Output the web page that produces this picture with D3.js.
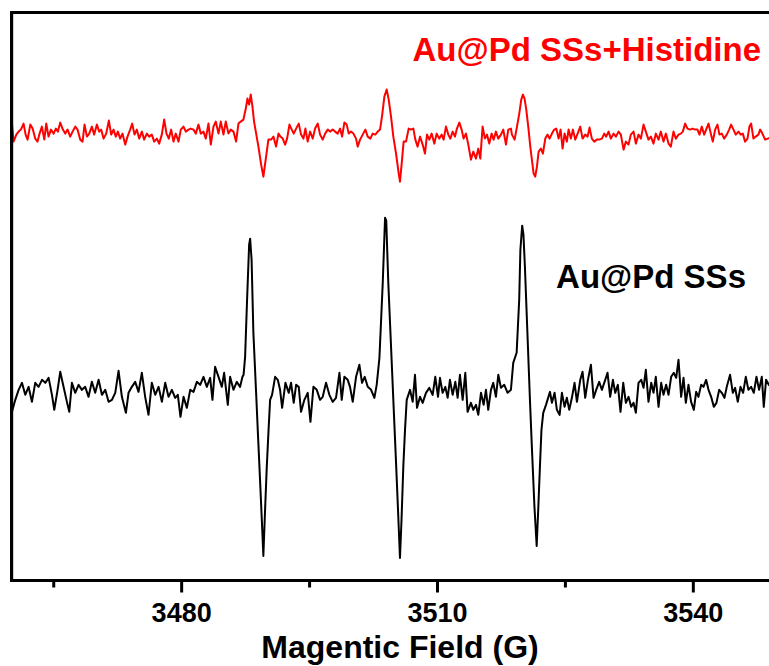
<!DOCTYPE html>
<html>
<head>
<meta charset="utf-8">
<script src="https://cdn.jsdelivr.net/npm/d3@7"></script>
<style>
body{margin:0;background:#fff;}
svg{display:block;font-family:"Liberation Sans",Arial,sans-serif;}
</style>
</head>
<body>
<svg id="chart"></svg>
<script>
// magnetic field (G) ticks
const majorTicks = [3480, 3510, 3540];
const minorTicks = [3465, 3495, 3525];

// EPR traces: [field (G), intensity (a.u.)]
const ssTrace = [
  [3460.16,-1.9],[3460.55,-0.7],[3460.94,0.3],[3461.33,1.0],[3461.72,-0.2],[3462.11,0.6],[3462.50,-0.9],[3462.89,1.0],
  [3463.28,0.6],[3463.68,1.3],[3464.07,1.0],[3464.46,1.5],[3464.85,-0.2],[3465.12,-1.7],[3465.51,0.3],[3465.82,2.1],
  [3466.21,0.6],[3466.60,-0.9],[3466.88,-1.9],[3467.19,1.0],[3467.58,0.0],[3467.97,0.8],[3468.36,0.3],[3468.75,0.6],
  [3469.14,-0.4],[3469.53,1.1],[3469.92,0.0],[3470.32,1.3],[3470.71,-0.2],[3471.10,0.3],[3471.49,-0.9],[3471.88,-0.7],
  [3472.27,0.0],[3472.66,2.2],[3473.05,-0.4],[3473.52,-2.0],[3473.83,0.0],[3474.22,0.6],[3474.61,1.1],[3475.00,0.1],
  [3475.39,2.0],[3475.78,-0.4],[3476.17,-2.2],[3476.56,1.0],[3476.96,-0.2],[3477.35,0.6],[3477.74,-0.9],[3478.13,1.0],
  [3478.52,-0.4],[3478.91,0.3],[3479.30,-0.5],[3479.61,-0.2],[3479.92,-2.4],[3480.28,-0.4],[3480.67,-1.5],[3481.06,0.3],
  [3481.45,0.1],[3481.84,1.1],[3482.23,0.8],[3482.62,1.6],[3483.01,0.6],[3483.40,1.5],[3483.67,-0.7],[3483.98,2.6],
  [3484.38,1.6],[3484.77,0.6],[3485.04,2.0],[3485.47,-1.2],[3485.74,1.6],[3486.13,0.3],[3486.52,1.1],[3486.91,0.6],
  [3487.19,1.6],[3487.32,1.8],[3487.50,3.6],[3487.73,9.3],[3487.97,14.8],[3488.09,15.4],[3488.26,13.3],[3488.47,6.0],
  [3488.79,0.0],[3489.02,-4.4],[3489.26,-8.9],[3489.49,-13.3],[3489.64,-16.3],[3489.84,-11.7],[3490.04,-7.4],[3490.25,-3.7],
  [3490.43,-0.7],[3490.66,-0.2],[3491.02,1.6],[3491.33,1.3],[3491.60,0.3],[3491.84,-1.5],[3492.23,1.0],[3492.62,0.0],
  [3492.89,1.0],[3493.20,-1.0],[3493.48,0.8],[3493.79,0.6],[3494.06,-1.9],[3494.45,-0.7],[3494.84,0.0],[3495.16,-2.9],
  [3495.51,0.6],[3495.90,0.3],[3496.29,-0.7],[3496.60,-0.4],[3496.99,1.0],[3497.38,-0.2],[3497.77,-0.9],[3498.16,-0.5],
  [3498.56,2.0],[3498.83,-0.7],[3499.14,1.6],[3499.53,1.3],[3499.80,0.6],[3500.12,-0.9],[3500.51,1.6],[3500.90,2.8],
  [3501.21,1.0],[3501.52,1.6],[3501.88,0.6],[3502.27,0.3],[3502.66,-0.5],[3502.93,0.8],[3503.25,3.5],[3503.64,11.0],
  [3503.91,17.5],[3504.05,17.2],[3504.29,11.0],[3504.88,-0.7],[3505.20,-7.0],[3505.43,-11.7],[3505.66,-16.5],[3505.84,-12.7],
  [3506.05,-7.4],[3506.25,-3.7],[3506.45,-0.7],[3506.84,0.3],[3507.15,-0.9],[3507.42,1.8],[3507.66,-1.5],[3508.01,-0.4],
  [3508.32,-1.0],[3508.71,0.0],[3509.10,0.5],[3509.49,-0.2],[3509.80,1.6],[3510.12,-0.4],[3510.35,1.5],[3510.66,0.0],
  [3510.98,0.6],[3511.25,-0.5],[3511.52,1.3],[3511.84,-0.2],[3512.15,1.1],[3512.42,-0.5],[3512.69,1.8],[3513.01,-0.7],
  [3513.32,2.0],[3513.59,-1.9],[3513.98,-1.0],[3514.26,-1.7],[3514.57,-1.2],[3514.84,-2.2],[3515.16,0.0],[3515.47,-1.2],
  [3515.74,0.3],[3516.01,-1.7],[3516.33,0.3],[3516.60,1.0],[3516.91,-0.4],[3517.19,1.8],[3517.50,0.5],[3517.89,0.8],
  [3518.28,0.0],[3518.67,0.3],[3518.94,3.0],[3519.34,4.0],[3519.64,9.3],[3519.78,14.3],[3519.99,16.7],[3520.14,15.8],
  [3520.31,12.6],[3520.90,-0.7],[3521.13,-5.5],[3521.43,-11.4],[3521.69,-15.3],[3521.87,-11.7],[3522.07,-7.4],[3522.25,-3.7],
  [3522.46,-2.0],[3522.78,-1.2],[3523.25,0.1],[3523.48,-1.0],[3523.79,0.0],[3524.06,-1.7],[3524.38,-2.2],[3524.65,0.0],
  [3524.96,-1.4],[3525.23,-0.5],[3525.51,-1.7],[3525.82,-0.5],[3526.13,1.0],[3526.41,-0.9],[3526.80,1.3],[3527.07,2.1],
  [3527.38,-0.5],[3527.70,1.3],[3528.05,2.8],[3528.36,-0.5],[3528.67,0.3],[3529.02,1.1],[3529.34,0.3],[3529.65,1.1],
  [3530.00,2.0],[3530.31,-0.4],[3530.63,1.3],[3530.90,0.0],[3531.21,0.8],[3531.52,-1.9],[3531.84,1.0],[3532.15,-1.0],
  [3532.46,-0.4],[3532.77,-1.4],[3533.05,-1.0],[3533.32,-2.0],[3533.63,1.0],[3533.95,1.3],[3534.22,0.5],[3534.49,2.3],
  [3534.80,-0.9],[3535.12,1.0],[3535.39,0.0],[3535.66,1.6],[3535.98,-1.4],[3536.29,1.0],[3536.56,-0.2],[3536.87,0.8],
  [3537.15,-0.2],[3537.46,1.6],[3537.77,2.0],[3538.05,1.5],[3538.32,3.3],[3538.63,-0.4],[3538.91,1.5],[3539.18,-1.0],
  [3539.49,0.8],[3539.80,-0.9],[3540.12,-1.7],[3540.39,0.1],[3540.66,-0.4],[3540.98,0.8],[3541.25,0.6],[3541.56,1.3],
  [3541.84,0.3],[3542.15,-0.4],[3542.46,-1.4],[3542.77,-1.0],[3543.09,0.3],[3543.40,0.0],[3543.71,-0.5],[3543.98,0.6],
  [3544.37,1.8],[3544.69,0.0],[3544.96,0.5],[3545.27,-0.9],[3545.59,0.6],[3545.90,0.0],[3546.21,1.6],[3546.52,0.3],
  [3546.84,0.6],[3547.15,0.0],[3547.46,1.6],[3547.77,0.3],[3548.09,1.6],[3548.32,-1.4],[3548.59,1.3],[3548.91,0.8],
  [3549.40,0.5]
];

const hisTrace = [
  [3460.16,0.8],[3460.35,-1.0],[3460.67,-0.3],[3460.94,0.0],[3461.21,0.2],[3461.52,0.8],[3461.76,-0.3],[3461.99,-0.8],
  [3462.31,0.7],[3462.58,0.3],[3462.89,-0.7],[3463.16,-1.0],[3463.40,-0.2],[3463.67,0.5],[3463.95,-0.8],[3464.18,0.8],
  [3464.45,-0.5],[3464.73,0.2],[3465.04,-0.2],[3465.31,0.3],[3465.55,0.0],[3465.82,0.9],[3466.13,0.2],[3466.41,-0.2],
  [3466.68,0.2],[3466.99,-0.5],[3467.27,0.0],[3467.58,0.5],[3467.85,0.2],[3468.16,-0.8],[3468.44,-1.0],[3468.67,0.7],
  [3468.95,-0.5],[3469.22,-0.2],[3469.53,0.5],[3469.80,-0.3],[3470.12,0.7],[3470.39,0.0],[3470.62,0.2],[3470.90,-0.7],
  [3471.21,-0.2],[3471.52,1.1],[3471.80,-0.3],[3472.07,0.2],[3472.34,-0.5],[3472.58,0.0],[3472.85,-0.7],[3473.12,-0.2],
  [3473.44,-1.3],[3473.71,-0.5],[3474.02,0.2],[3474.26,0.8],[3474.53,-0.3],[3474.80,0.2],[3475.08,-0.7],[3475.39,0.0],
  [3475.66,-0.8],[3475.98,-0.2],[3476.25,-0.5],[3476.56,-0.3],[3476.84,-1.0],[3477.15,-0.7],[3477.42,-1.2],[3477.73,-0.3],
  [3478.01,1.2],[3478.28,-0.2],[3478.55,-0.7],[3478.83,0.2],[3479.10,-1.0],[3479.37,-0.2],[3479.69,-1.0],[3479.96,0.2],
  [3480.27,0.5],[3480.55,0.0],[3480.86,0.2],[3481.13,0.3],[3481.44,0.2],[3481.72,-0.2],[3482.03,0.7],[3482.30,-0.2],
  [3482.62,0.0],[3482.89,-0.7],[3483.20,0.8],[3483.48,-1.3],[3483.79,0.5],[3484.06,1.0],[3484.38,-0.2],[3484.65,1.0],
  [3484.96,-0.3],[3485.23,1.0],[3485.55,-0.2],[3485.82,0.2],[3486.13,0.0],[3486.44,-1.0],[3486.72,0.8],[3486.99,1.0],
  [3487.30,1.2],[3487.58,2.3],[3487.77,3.3],[3487.97,2.7],[3488.16,3.7],[3488.36,2.5],[3488.55,1.0],[3489.06,-1.5],
  [3489.38,-3.3],[3489.64,-4.5],[3489.96,-2.5],[3490.23,-0.8],[3490.55,-0.8],[3490.82,-0.5],[3491.13,-1.5],[3491.41,-0.2],
  [3491.64,-0.5],[3491.91,-0.7],[3492.19,-1.3],[3492.42,-0.7],[3492.70,0.7],[3492.97,0.2],[3493.20,-0.2],[3493.48,0.3],
  [3493.79,0.8],[3494.06,-0.3],[3494.34,-0.7],[3494.57,0.3],[3494.84,-1.0],[3495.12,0.0],[3495.43,-0.7],[3495.70,0.3],
  [3496.02,0.8],[3496.29,-0.3],[3496.60,-0.8],[3496.88,-0.2],[3497.19,0.2],[3497.46,0.0],[3497.77,0.2],[3498.05,0.0],
  [3498.36,-0.2],[3498.63,0.3],[3498.87,-0.5],[3499.14,0.9],[3499.41,0.7],[3499.65,-0.2],[3499.92,0.0],[3500.20,-0.2],
  [3500.51,-0.7],[3500.70,-1.5],[3500.98,-0.8],[3501.29,-0.3],[3501.60,0.2],[3501.88,-0.5],[3502.19,-0.7],[3502.46,-0.2],
  [3502.77,-0.3],[3503.05,0.0],[3503.32,0.2],[3503.55,1.5],[3503.83,3.5],[3504.10,4.2],[3504.34,3.2],[3504.61,1.5],
  [3504.88,-0.5],[3505.20,-2.2],[3505.51,-4.2],[3505.66,-5.0],[3505.86,-3.2],[3506.09,-1.0],[3506.37,-1.0],[3506.68,0.3],
  [3506.95,0.2],[3507.23,0.3],[3507.46,-0.8],[3507.73,-1.5],[3508.01,-0.5],[3508.32,-1.3],[3508.59,-2.2],[3508.83,-0.3],
  [3509.10,-0.8],[3509.37,-0.2],[3509.69,-1.2],[3509.96,-0.2],[3510.27,-0.7],[3510.55,-0.3],[3510.78,-0.8],[3511.05,0.5],
  [3511.33,-0.3],[3511.56,-0.7],[3511.84,0.0],[3512.11,-0.5],[3512.34,0.3],[3512.62,0.9],[3512.89,0.2],[3513.12,-0.7],
  [3513.40,-0.2],[3513.67,-1.3],[3513.98,-2.8],[3514.26,-2.0],[3514.57,-2.7],[3514.84,-1.7],[3515.08,-2.7],[3515.35,0.5],
  [3515.62,-0.7],[3515.86,-0.3],[3516.13,-1.2],[3516.41,-0.2],[3516.64,-0.8],[3516.91,0.0],[3517.19,-0.7],[3517.50,-0.3],
  [3517.77,0.2],[3518.09,-1.3],[3518.36,0.2],[3518.67,0.3],[3518.79,-0.3],[3519.10,-0.8],[3519.38,0.5],[3519.65,1.8],
  [3519.88,3.2],[3520.08,3.7],[3520.27,3.3],[3520.47,2.2],[3520.74,0.2],[3520.94,-1.5],[3521.13,-2.8],[3521.33,-4.2],
  [3521.52,-4.5],[3521.72,-3.5],[3521.92,-2.0],[3522.19,-1.7],[3522.42,-2.2],[3522.70,-0.7],[3522.97,-0.3],[3523.20,-0.7],
  [3523.48,-0.2],[3523.75,0.2],[3523.99,0.3],[3524.26,-0.7],[3524.49,0.2],[3524.73,-1.7],[3524.96,-0.2],[3525.23,-1.0],
  [3525.43,0.2],[3525.70,-0.7],[3525.94,0.2],[3526.21,-0.8],[3526.49,-0.2],[3526.80,0.5],[3527.07,-0.7],[3527.38,-0.3],
  [3527.66,-0.5],[3527.89,0.4],[3528.16,-0.7],[3528.44,-1.0],[3528.75,-0.8],[3529.02,-0.8],[3529.34,-0.7],[3529.61,-0.2],
  [3529.84,-0.5],[3530.12,0.0],[3530.39,-0.7],[3530.70,-0.2],[3530.98,-0.5],[3531.29,0.0],[3531.56,-0.3],[3531.88,-1.8],
  [3532.15,-1.0],[3532.46,-1.3],[3532.73,-0.3],[3533.05,0.0],[3533.32,-1.2],[3533.63,-0.3],[3533.91,-0.7],[3534.22,0.7],
  [3534.49,0.0],[3534.80,-0.8],[3535.08,-0.5],[3535.39,-1.2],[3535.66,-0.2],[3535.98,-0.8],[3536.25,0.0],[3536.56,-1.0],
  [3536.84,-0.2],[3537.15,-1.2],[3537.42,-1.5],[3537.73,0.0],[3538.01,-0.7],[3538.32,-0.3],[3538.59,-0.2],[3538.83,0.0],
  [3539.10,0.8],[3539.37,0.3],[3539.69,0.2],[3539.96,0.3],[3540.27,0.2],[3540.55,0.2],[3540.78,-0.3],[3541.05,0.5],
  [3541.33,-0.3],[3541.56,0.2],[3541.84,0.8],[3542.11,-0.2],[3542.34,-1.0],[3542.62,0.2],[3542.89,0.7],[3543.12,-0.3],
  [3543.40,-0.2],[3543.67,-0.7],[3543.98,-0.3],[3544.26,0.2],[3544.49,0.7],[3544.77,0.2],[3545.04,-0.3],[3545.35,0.0],
  [3545.62,-0.3],[3545.86,-0.2],[3546.13,-1.0],[3546.41,-0.7],[3546.64,0.5],[3546.84,0.8],[3547.11,-0.7],[3547.38,-0.5],
  [3547.69,-0.3],[3547.89,0.2],[3548.16,-0.2],[3548.48,-0.8],[3548.79,-0.7],[3549.40,-0.5]
];

// vertical stacking of the two spectra (a.u.)
const ssOffset = 0;
const hisOffset = 26.1;

const width = 769, height = 666;
const svg = d3.select('#chart').attr('width', width).attr('height', height);

const x = d3.scaleLinear().domain([3460, 3550]).range([10.6, 778.1]);
const y = d3.scaleLinear().domain([-18.75, 38]).range([580.5, 12.5]);

const line = off => d3.line()
    .x(d => x(d[0]))
    .y(d => y(d[1] + off));

// traces
svg.append('path')
    .datum(hisTrace)
    .attr('d', line(hisOffset))
    .attr('fill', 'none')
    .attr('stroke', '#ff0000')
    .attr('stroke-width', 2)
    .attr('stroke-linejoin', 'round');

svg.append('path')
    .datum(ssTrace)
    .attr('d', line(ssOffset))
    .attr('fill', 'none')
    .attr('stroke', '#000')
    .attr('stroke-width', 2)
    .attr('stroke-linejoin', 'round');

// frame: left, top, bottom
const x0 = x.range()[0], x1 = x.range()[1];
const yTop = y.range()[1], yBot = y.range()[0];
svg.append('path')
    .attr('d', `M${x1},${yTop}H${x0 + 1}V${yBot}H${x1}`)
    .attr('fill', 'none')
    .attr('stroke', '#000')
    .attr('stroke-width', 3.2);

// x axis
const gx = svg.append('g')
    .attr('transform', `translate(0,${yBot})`)
    .call(d3.axisBottom(x).tickValues(majorTicks).tickSize(12).tickSizeOuter(0)
        .tickPadding(10).tickFormat(d3.format('d')));
gx.select('.domain').remove();
gx.selectAll('.tick line').attr('stroke-width', 3);
gx.selectAll('.tick text')
    .attr('font-size', 27)
    .attr('font-weight', 'bold')
    .attr('font-family', '"Liberation Sans", Arial, sans-serif')
    .attr('fill', '#000');

const gm = svg.append('g')
    .attr('transform', `translate(0,${yBot})`)
    .call(d3.axisBottom(x).tickValues(minorTicks).tickSize(7).tickSizeOuter(0).tickFormat(''));
gm.select('.domain').remove();
gm.selectAll('.tick line').attr('stroke-width', 3);

svg.append('text')
    .attr('x', 400)
    .attr('y', 658)
    .attr('text-anchor', 'middle')
    .attr('font-size', 32)
    .attr('font-weight', 'bold')
    .text('Magentic Field (G)');

// series labels
svg.append('text')
    .attr('x', 761)
    .attr('y', 61)
    .attr('text-anchor', 'end')
    .attr('font-size', 33)
    .attr('font-weight', 'bold')
    .attr('fill', '#ff0000')
    .text('Au@Pd SSs+Histidine');

svg.append('text')
    .attr('x', 746)
    .attr('y', 288)
    .attr('text-anchor', 'end')
    .attr('font-size', 33)
    .attr('font-weight', 'bold')
    .attr('fill', '#000')
    .text('Au@Pd SSs');
</script>
</body>
</html>
